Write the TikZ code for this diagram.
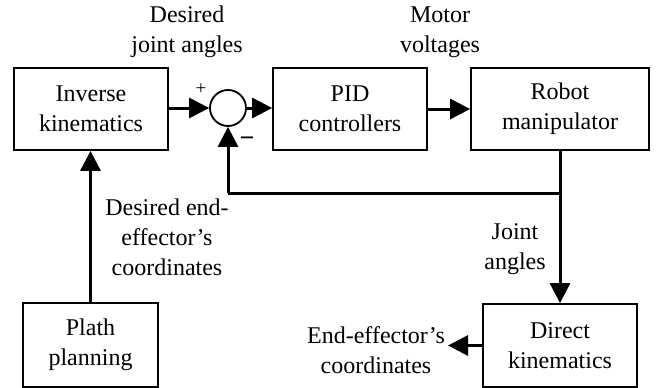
\documentclass[tikz,border=0pt]{standalone}
\usepackage{fontspec}
\setmainfont{Liberation Serif}
\usetikzlibrary{arrows.meta}
\tikzset{
  block/.style={draw, line width=1.8pt, minimum width=154pt, minimum height=82pt,
    align=center, inner sep=0pt, font=\fontsize{24}{30}\selectfont},
  sumnode/.style={draw, circle, line width=1.8pt, minimum size=36pt, inner sep=0pt},
  conn/.style={line width=3pt, -{Triangle[length=20pt,width=20pt]}},
  plainline/.style={line width=3pt},
  lbl/.style={align=center, inner sep=0pt, font=\fontsize{24}{30}\selectfont},
}
\begin{document}
\begin{tikzpicture}[x=1pt,y=-1pt]
\useasboundingbox (0,0) rectangle (656,388);
% blocks
\node[block] (inv) at (91,109) {Inverse\\kinematics};
\node[sumnode] (sum) at (228,108) {};
\node[block] (pid) at (350,109) {PID\\controllers};
\node[block, minimum width=178pt] (robot) at (560,109) {Robot\\manipulator};
\node[block, minimum width=135pt, minimum height=84pt] (plath) at (90.5,345) {Plath\\planning};
\node[block, minimum height=83pt] (direct) at (560,345.5) {Direct\\kinematics};
% signs at the summing junction
\node[inner sep=0pt, font=\fontsize{19}{19}\selectfont] (plus) at (201,89) {+};
\node[inner sep=0pt, font=\bfseries\fontsize{26}{26}\selectfont] (minus) at (247,142) {−};
% signal labels
\node[lbl] (l1) at (187,32) {Desired\\joint angles};
\node[lbl] (l2) at (440,32) {Motor\\voltages};
\node[lbl] (l3) at (167,237) {Desired end-\\effector’s\\coordinates};
\node[lbl] (l4) at (515,249) {Joint\\angles};
\node[lbl] (l5) at (376,350) {End-effector’s\\coordinates};
% connectors
\coordinate (fb) at (228,193);
\coordinate (out) at (448,345.5);
\draw[conn] (inv.east |- sum.west) -- (sum.west);
\draw[conn] (sum.east) -- (pid.west |- sum.east);
\draw[conn] (pid.east) -- (robot.west);
\draw[conn] (plath.north) -- (inv.south -| plath.north);
\draw[plainline] (robot.south) |- (fb);
\draw[conn] (fb) -- (sum.south);
\draw[conn] (robot.south) -- (direct.north);
\draw[conn] (direct.west) -- (out);
\end{tikzpicture}
\end{document}
